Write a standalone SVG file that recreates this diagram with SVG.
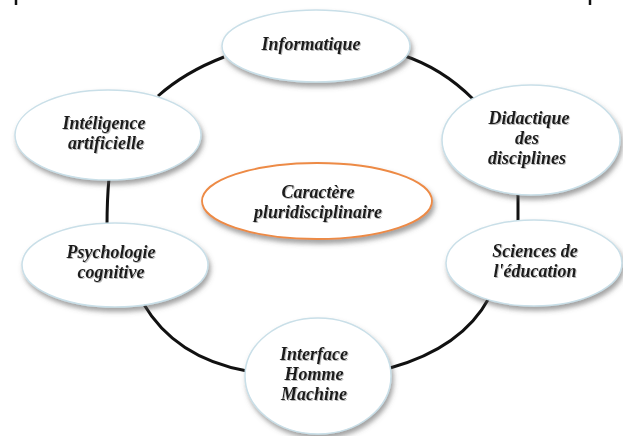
<svg xmlns="http://www.w3.org/2000/svg" width="623" height="436" viewBox="0 0 623 436">
<defs>
<filter id="sh" x="-20%" y="-20%" width="140%" height="150%">
<feDropShadow dx="2" dy="4" stdDeviation="2.5" flood-color="#555" flood-opacity="0.55"/>
</filter>
<filter id="tsh" x="-10%" y="-30%" width="120%" height="160%">
<feDropShadow dx="1" dy="1" stdDeviation="0.7" flood-color="#777" flood-opacity="0.5"/>
</filter>
</defs>
<style>
.n{fill:#ffffff;stroke:#c9dfe8;stroke-width:1.5;filter:url(#sh)}
.c{fill:#ffffff;stroke:#ed8a45;stroke-width:1.8;filter:url(#sh)}
.t{font-family:"Liberation Serif","DejaVu Serif",serif;font-style:italic;font-weight:bold;font-size:18px;fill:#1a1a1a;text-anchor:middle;filter:url(#tsh)}
.e{fill:none;stroke:#111;stroke-width:3;stroke-linecap:butt}
</style>
<rect width="623" height="436" fill="#ffffff"/>
<line x1="16" y1="0" x2="16" y2="5" stroke="#111" stroke-width="2.5"/>
<line x1="590" y1="0" x2="590" y2="5" stroke="#111" stroke-width="2.5"/>
<g id="connectors">
<path class="e" d="M224,57 Q185,72 158,96"/>
<path class="e" d="M109,178 Q107,200 107,226"/>
<path class="e" d="M143,303 Q175,358 247,371"/>
<path class="e" d="M390,368 Q462,348 489,298"/>
<path class="e" d="M518,222 L518,193"/>
<path class="e" d="M473,99 Q442,68 402,55"/>
</g>
<g id="informatique">
<ellipse class="n" cx="316" cy="46" rx="94" ry="36"/>
<text class="t" x="311" y="50">Informatique</text>
</g>
<g id="intelligence">
<ellipse class="n" cx="108" cy="135" rx="93" ry="45"/>
<text class="t" x="104" y="129">Intéligence</text>
<text class="t" x="106" y="149">artificielle</text>
</g>
<g id="didactique">
<ellipse class="n" cx="531" cy="140" rx="89" ry="55"/>
<text class="t" x="529" y="124">Didactique</text>
<text class="t" x="527" y="144">des</text>
<text class="t" x="527" y="164">disciplines</text>
</g>
<g id="centre">
<ellipse class="c" cx="317" cy="201" rx="115" ry="38"/>
<text class="t" x="318" y="198">Caractère</text>
<text class="t" x="318" y="218">pluridisciplinaire</text>
</g>
<g id="psychologie">
<ellipse class="n" cx="115" cy="265" rx="93" ry="42"/>
<text class="t" x="111" y="258">Psychologie</text>
<text class="t" x="111" y="278">cognitive</text>
</g>
<g id="sciences">
<ellipse class="n" cx="534" cy="263" rx="88" ry="43"/>
<text class="t" x="535" y="257">Sciences de</text>
<text class="t" x="535" y="277">l'éducation</text>
</g>
<g id="ihm">
<ellipse class="n" cx="318" cy="376" rx="73" ry="58"/>
<text class="t" x="314" y="360">Interface</text>
<text class="t" x="314" y="380">Homme</text>
<text class="t" x="314" y="400">Machine</text>
</g>
</svg>
